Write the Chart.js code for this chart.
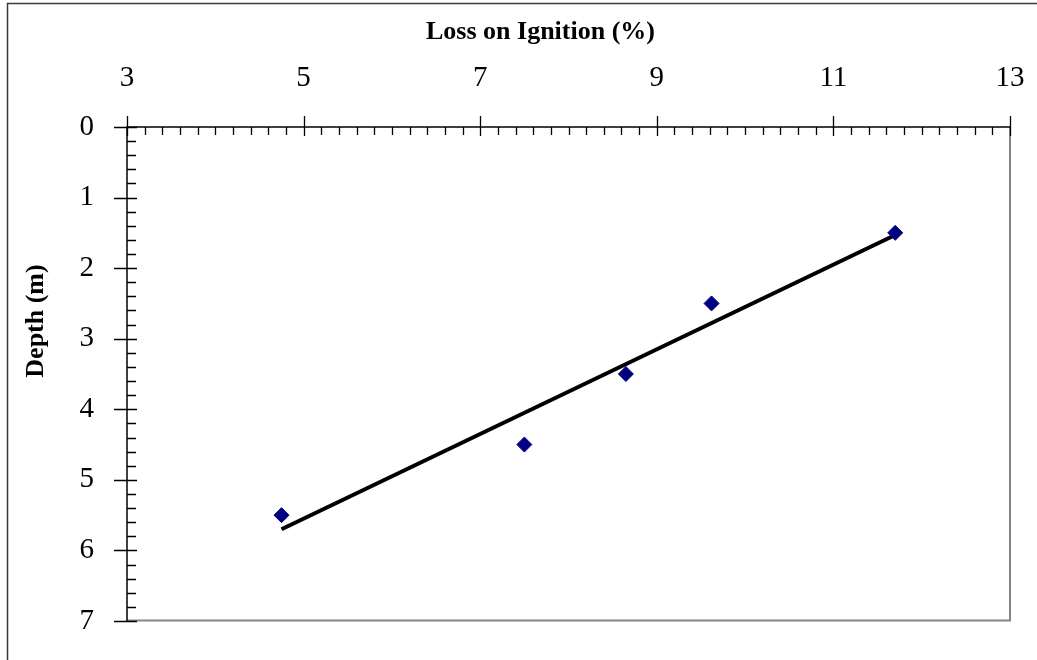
<!DOCTYPE html>
<html>
<head>
<meta charset="utf-8">
<title>Loss on Ignition vs Depth</title>
<script src="https://cdn.jsdelivr.net/npm/chart.js@4/dist/chart.umd.min.js"></script>
<style>
  html, body { margin: 0; padding: 0; background: #ffffff; }
  #wrap { width: 1037px; height: 660px; }
</style>
</head>
<body>
<div id="wrap"><canvas id="chart" width="1037" height="660"></canvas></div>
<script>
// Loss on ignition (%) measured at each sampled depth (m)
const lossOnIgnition = [4.75, 7.5, 8.65, 9.62, 11.7];
const depthM = [5.5, 4.5, 3.5, 2.5, 1.5];

// Linear trend line end points (LOI %, depth m)
const trendLoi = [4.75, 11.7];
const trendDepth = [5.7, 1.53];

// Axis ranges and labels
const xAxisRange = [3, 13];
const xTickStep = 2;
const yAxisRange = [0, 7];
const yTickStep = 1;
const xTitle = 'Loss on Ignition (%)';
const yTitle = 'Depth (m)';

const SERIF = "'Liberation Serif', 'Times New Roman', serif";

const pointData = lossOnIgnition.map((x, i) => ({ x, y: depthM[i] }));
const trendData = trendLoi.map((x, i) => ({ x, y: trendDepth[i] }));

// Draws the frame, Excel-style inside/crossing ticks, plot border and axis titles
const framePlugin = {
  id: 'frame',
  beforeDraw(chart) {
    const ctx = chart.ctx;
    ctx.save();
    ctx.fillStyle = '#ffffff';
    ctx.fillRect(0, 0, chart.width, chart.height);
    // outer frame (left and top edges)
    ctx.strokeStyle = '#3a3a3a';
    ctx.lineWidth = 1.5;
    ctx.beginPath();
    ctx.moveTo(7.5, chart.height);
    ctx.lineTo(7.5, 3.5);
    ctx.lineTo(chart.width, 3.5);
    ctx.stroke();
    ctx.restore();
  },
  afterDraw(chart) {
    const ctx = chart.ctx;
    const a = chart.chartArea;
    const xs = chart.scales.x;
    const ys = chart.scales.y;
    ctx.save();

    // plot area right/bottom edges
    ctx.strokeStyle = '#858585';
    ctx.lineWidth = 2;
    ctx.beginPath();
    ctx.moveTo(a.left, a.bottom - 0.5);
    ctx.lineTo(a.right, a.bottom - 0.5);
    ctx.lineTo(a.right, a.top);
    ctx.stroke();

    // axis lines
    ctx.strokeStyle = '#000000';
    ctx.lineWidth = 1.5;
    ctx.beginPath();
    ctx.moveTo(a.left, a.bottom);
    ctx.lineTo(a.left, a.top);
    ctx.lineTo(a.right, a.top);
    ctx.stroke();

    // x ticks: minor every 0.2, major every 2
    ctx.lineWidth = 1.3;
    ctx.beginPath();
    const nx = Math.round((xAxisRange[1] - xAxisRange[0]) / 0.2);
    for (let i = 0; i <= nx; i++) {
      const px = Math.round(xs.getPixelForValue(xAxisRange[0] + i * 0.2)) + 0.5;
      if (i % 10 === 0) {
        ctx.moveTo(px, a.top - 11);
        ctx.lineTo(px, a.top + 9);
      } else {
        ctx.moveTo(px, a.top);
        ctx.lineTo(px, a.top + 8);
      }
    }
    // y ticks: minor every 0.2, major every 1
    const ny = Math.round((yAxisRange[1] - yAxisRange[0]) / 0.2);
    for (let i = 0; i <= ny; i++) {
      const py = Math.round(ys.getPixelForValue(yAxisRange[0] + i * 0.2)) + 0.5;
      if (i % 5 === 0) {
        ctx.moveTo(a.left - 13, py);
        ctx.lineTo(a.left + 10, py);
      } else {
        ctx.moveTo(a.left, py);
        ctx.lineTo(a.left + 9, py);
      }
    }
    ctx.stroke();

    // axis titles
    ctx.fillStyle = '#000000';
    ctx.font = 'bold 26px ' + SERIF;
    ctx.textAlign = 'center';
    ctx.textBaseline = 'middle';
    ctx.fillText(xTitle, 540.5, 32);
    ctx.translate(36, 321);
    ctx.rotate(-Math.PI / 2);
    ctx.fillText(yTitle, 0, 0);
    ctx.restore();
  }
};

new Chart(document.getElementById('chart'), {
  type: 'scatter',
  data: {
    datasets: [
      {
        label: 'LOI',
        data: pointData,
        pointStyle: 'rectRot',
        pointRadius: 7.5,
        pointBackgroundColor: '#000080',
        pointBorderColor: '#000080',
        pointBorderWidth: 1,
        showLine: false
      },
      {
        label: 'Trend',
        type: 'line',
        data: trendData,
        borderColor: '#000000',
        borderWidth: 4,
        pointRadius: 0,
        fill: false,
        tension: 0
      }
    ]
  },
  options: {
    responsive: false,
    animation: false,
    events: [],
    layout: { padding: { left: 0, top: 0, right: 27, bottom: 39 } },
    plugins: {
      legend: { display: false },
      tooltip: { enabled: false },
      title: { display: false }
    },
    scales: {
      x: {
        type: 'linear',
        position: 'top',
        min: xAxisRange[0],
        max: xAxisRange[1],
        afterFit(scale) {
          scale.height = 127;
          scale.paddingLeft = 0;
          scale.paddingRight = 0;
        },
        grid: { display: false, drawTicks: false },
        border: { display: false },
        ticks: {
          stepSize: xTickStep,
          padding: 31,
          color: '#000000',
          font: { family: SERIF, size: 29 },
          maxRotation: 0
        }
      },
      y: {
        type: 'linear',
        position: 'left',
        reverse: true,
        min: yAxisRange[0],
        max: yAxisRange[1],
        afterFit(scale) {
          scale.width = 127;
          scale.paddingTop = 0;
          scale.paddingBottom = 0;
        },
        grid: { display: false, drawTicks: false },
        border: { display: false },
        ticks: {
          stepSize: yTickStep,
          padding: 33,
          color: '#000000',
          font: { family: SERIF, size: 29 }
        }
      }
    }
  },
  plugins: [framePlugin]
});
</script>
</body>
</html>
